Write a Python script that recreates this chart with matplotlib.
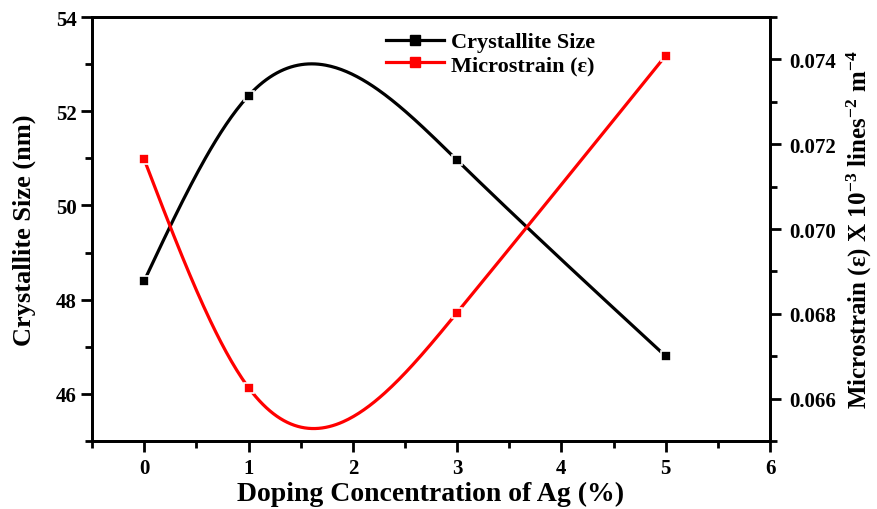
import numpy as np
import matplotlib
matplotlib.use("Agg")
import matplotlib.pyplot as plt
from matplotlib.ticker import MultipleLocator

# =============================================================================
# DATA
# =============================================================================
ag_conc      = [0, 1, 3, 5]
cryst_size   = [48.40, 52.33, 50.96, 46.80]
microstrain  = [0.07164, 0.06626, 0.06803, 0.07409]


def natural_spline(x, y, n=300):
    # plain natural cubic spline, only used to draw the smooth curve
    x = np.asarray(x, float); y = np.asarray(y, float)
    k = len(x) - 1
    h = np.diff(x)
    A = np.zeros((k + 1, k + 1)); b = np.zeros(k + 1)
    A[0, 0] = A[k, k] = 1
    for i in range(1, k):
        A[i, i - 1] = h[i - 1]
        A[i, i]     = 2 * (h[i - 1] + h[i])
        A[i, i + 1] = h[i]
        b[i] = 6 * ((y[i + 1] - y[i]) / h[i] - (y[i] - y[i - 1]) / h[i - 1])
    M = np.linalg.solve(A, b)
    xs = np.linspace(x[0], x[-1], n)
    idx = np.clip(np.searchsorted(x, xs) - 1, 0, k - 1)
    x0, x1 = x[idx], x[idx + 1]; hh = x1 - x0
    ys = (M[idx] * (x1 - xs) ** 3 / (6 * hh) + M[idx + 1] * (xs - x0) ** 3 / (6 * hh)
          + (y[idx] / hh - M[idx] * hh / 6) * (x1 - xs)
          + (y[idx + 1] / hh - M[idx + 1] * hh / 6) * (xs - x0))
    return xs, ys


# =============================================================================
# PLOT
# =============================================================================
plt.rcParams["font.family"] = ["Liberation Serif", "DejaVu Serif"]
plt.rcParams["font.weight"] = "bold"
plt.rcParams["mathtext.fontset"] = "custom"
plt.rcParams["mathtext.rm"] = "Liberation Serif:bold"
plt.rcParams["mathtext.it"] = "Liberation Serif:bold"
plt.rcParams["mathtext.bf"] = "Liberation Serif:bold"

fig = plt.figure(figsize=(8.77, 5.10), dpi=100)
ax1 = fig.add_axes([0.105, 0.1333, 0.773, 0.8314])
ax2 = ax1.twinx()

mk = dict(marker="s", markersize=7, markeredgecolor="white", markeredgewidth=1.2, linestyle="none")

xs, ys = natural_spline(ag_conc, cryst_size)
ax1.plot(xs, ys, color="black", lw=2.3)
ax1.plot(ag_conc, cryst_size, color="black", **mk)
l1, = ax1.plot([], [], color="black", lw=2.3, marker="s", markersize=7, label="Crystallite Size")

xs, ys = natural_spline(ag_conc, microstrain)
ax2.plot(xs, ys, color="red", lw=2.3)
ax2.plot(ag_conc, microstrain, color="red", **mk)
l2, = ax2.plot([], [], color="red", lw=2.3, marker="s", markersize=7, label="Microstrain (\u03b5)")

ax1.set_xlim(-0.5, 6)
ax1.set_ylim(45, 54)
ax2.set_ylim(0.065, 0.075)

ax1.xaxis.set_major_locator(MultipleLocator(1))
ax1.xaxis.set_minor_locator(MultipleLocator(0.5))
ax1.yaxis.set_major_locator(MultipleLocator(2))
ax1.yaxis.set_minor_locator(MultipleLocator(1))
ax2.yaxis.set_major_locator(MultipleLocator(0.002))
ax2.yaxis.set_minor_locator(MultipleLocator(0.001))
ax2.yaxis.set_major_formatter(plt.FormatStrFormatter("%.3f"))

for ax in (ax1, ax2):
    for s in ax.spines.values():
        s.set_linewidth(2)
    ax.tick_params(which="major", length=8, width=2, labelsize=15, direction="out")
    ax.tick_params(which="minor", length=5, width=2, direction="out")
ax1.tick_params(axis="x", pad=4)
ax1.tick_params(axis="y", pad=3)
ax2.tick_params(axis="y", pad=6)

ax1.set_xlabel("Doping Concentration of Ag (%)", fontsize=20, fontweight="bold")
ax1.xaxis.set_label_coords(0.5, -0.094)
ax1.set_ylabel("Crystallite Size (nm)", fontsize=19, fontweight="bold")
ax1.yaxis.set_label_coords(-0.083, 0.5)
ax2.set_ylabel("Microstrain (\u03b5) X 10$^{-3}$ lines$^{-2}$ m$^{-4}$",
               fontsize=18, fontweight="bold")
ax2.yaxis.set_label_coords(1.111, 0.5)

ax1.legend(handles=[l1, l2], loc="upper center", bbox_to_anchor=(0.588, 1.012),
           frameon=False, handlelength=2.6, handletextpad=0.3,
           labelspacing=0.1, prop={"weight": "bold", "size": 16})

fig.savefig("out.png", dpi=100)
